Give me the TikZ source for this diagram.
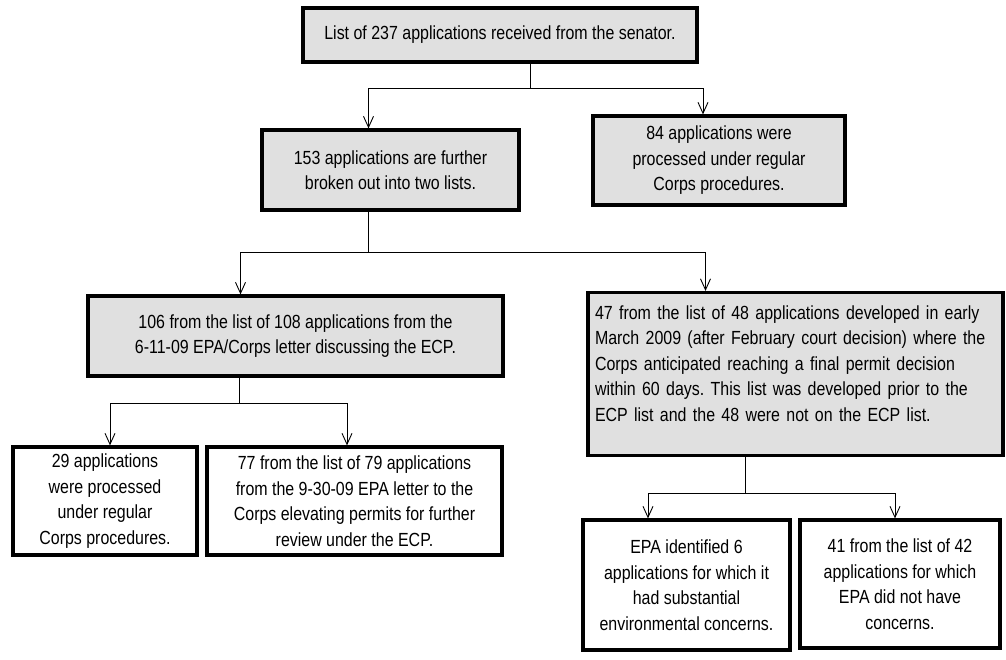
\documentclass[tikz,border=0pt]{standalone}
\usepackage{fontspec}
\setmainfont{Liberation Sans}[FakeStretch=0.84]
\usetikzlibrary{arrows.meta}
\frenchspacing

\begin{document}
\begin{tikzpicture}[x=1pt,y=-1pt,
    box/.style={draw,line width=3.2pt,fill=black!12,align=center,inner sep=0pt,
      font=\fontsize{19}{25.5}\selectfont},
    plainbox/.style={box,fill=white},
    link/.style={line width=0.9pt},
    arr/.style={link,-{Straight Barb[length=11pt,width=10pt]}}]
  \useasboundingbox (0,0) rectangle (1006,660);
  % boxes
  \node[box,minimum width=394pt,minimum height=54pt] (top) at (500,35)
    {List of 237 applications received from the senator.};
  \node[box,minimum width=257pt,minimum height=80pt] (n153) at (390.5,170)
    {153 applications are further\\ broken out into two lists.};
  \node[box,minimum width=252pt,minimum height=89pt] (n84) at (719,160.5)
    {84 applications were\\ processed under regular\\ Corps procedures.};
  \node[box,minimum width=415pt,minimum height=80pt] (n106) at (295.5,336)
    {106 from the list of 108 applications from the\\ 6-11-09 EPA/Corps letter discussing the ECP.};
  \node[box,align=left,text width=401pt,inner xsep=7pt,minimum height=163pt] (n47) at (795.5,374)
    {47 from the list of 48 applications developed in early\\ March 2009 (after February court decision) where the\\ Corps anticipated reaching a final permit decision\\ within 60 days. This list was developed prior to the\\ ECP list and the 48 were not on the ECP list.\\[-4pt]\mbox{}};
  \node[plainbox,minimum width=184pt,minimum height=108pt] (n29) at (105,501)
    {29 applications\\ were processed\\ under regular\\ Corps procedures.};
  \node[plainbox,minimum width=295pt,minimum height=108pt] (n77) at (354.5,501)
    {77 from the list of 79 applications\\ from the 9-30-09 EPA letter to the\\ Corps elevating permits for further\\ review under the ECP.};
  \node[plainbox,minimum width=207pt,minimum height=130pt] (epa) at (686.5,585)
    {EPA identified 6\\ applications for which it\\ had substantial\\ environmental concerns.};
  \node[plainbox,minimum width=200pt,minimum height=128pt] (n41) at (900,584)
    {41 from the list of 42\\ applications for which\\ EPA did not have\\ concerns.};
  % connectors
  \coordinate (j1) at (530,88);
  \draw[link] (top.south -| j1) -- (j1);
  \draw[arr] (j1) -| ([xshift=-22pt]n153.north);
  \draw[arr] (j1) -| ([xshift=-16pt]n84.north);
  \coordinate (j2) at (368,252);
  \draw[link] (n153.south -| j2) -- (j2);
  \draw[arr] (j2) -| ([xshift=-55pt]n106.north);
  \draw[arr] (j2) -| ([xshift=-90pt]n47.north);
  \coordinate (j3) at (239,403);
  \draw[link] (n106.south -| j3) -- (j3);
  \draw[arr] (j3) -| ([xshift=5pt]n29.north);
  \draw[arr] (j3) -| ([xshift=-7.5pt]n77.north);
  \coordinate (j4) at (745,493);
  \draw[link] (n47.south -| j4) -- (j4);
  \draw[arr] (j4) -| ([xshift=-38.5pt]epa.north);
  \draw[arr] (j4) -| ([xshift=-5pt]n41.north);
\end{tikzpicture}
\end{document}
